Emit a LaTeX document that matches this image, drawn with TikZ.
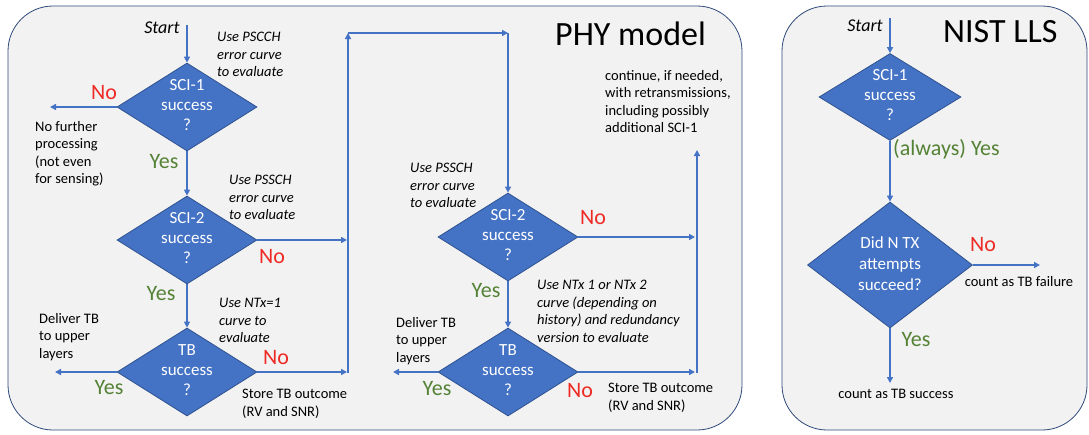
\documentclass[tikz,border=0pt]{standalone}
\usepackage{fontspec}
\setmainfont{Carlito}
\usetikzlibrary{shapes.geometric,arrows.meta}
\definecolor{panelfill}{HTML}{F2F2F2}
\definecolor{panelline}{HTML}{2F4A7A}
\definecolor{dfill}{HTML}{4472C4}
\definecolor{dline}{HTML}{2F528F}
\definecolor{arrowc}{HTML}{4472C4}
\definecolor{nored}{HTML}{EE2A24}
\definecolor{yesgreen}{HTML}{548235}
\newcommand{\dtxt}[1]{\smash{\raisebox{-0.25em}{\begin{tabular}{@{}c@{}}#1\end{tabular}}}}
\tikzset{
  dia/.style={shape=diamond, draw=dline, fill=dfill, line width=0.8pt, inner sep=0pt,
    minimum width=140pt, minimum height=88pt, text=white, font=\fontsize{17}{20}\selectfont},
  arr/.style={draw=arrowc, line width=1.6pt, -{Triangle[length=6pt,width=6pt]}},
  plain/.style={inner sep=0pt, align=left, anchor=north west, font=\fontsize{14.5}{17.5}\selectfont},
  note/.style={plain, font=\itshape\fontsize{14.5}{17.5}\selectfont},
  startst/.style={inner sep=0pt, font=\itshape\fontsize{18}{20}\selectfont},
  no/.style={inner sep=0pt, text=nored, font=\fontsize{22}{26}\selectfont},
  yes/.style={inner sep=0pt, text=yesgreen, font=\fontsize{22}{26}\selectfont},
  titlest/.style={inner sep=0pt, anchor=base west, font=\fontsize{34}{40}\selectfont},
  panel/.style={fill=panelfill, draw=panelline, line width=0.8pt, rounded corners=45pt}
}
\begin{document}
\begin{tikzpicture}[x=1pt,y=-1pt]
\useasboundingbox (0,0) rectangle (1089,434);
% panels
\draw[panel] (8,6) rectangle (742,430);
\draw[panel] (782,6) rectangle (1087,430);

% ---------- left column ----------
\node[startst] (start1) at (162,28) {Start};
\coordinate (s1) at (187,25);
\node[note] (n1) at (217,32) {Use PSCCH\\error curve\\to evaluate};
\node[dia] (d1) at (187,107) {\dtxt{SCI-1\\success\\?}};
\node[no] (no1) at (104,93) {No};
\node[plain] (nf) at (35,121) {No further\\processing\\(not even\\for sensing)};
\coordinate (e1) at (50,107);
\node[yes] (yes1) at (164,162) {Yes};
\node[note] (n2) at (229,175) {Use PSSCH\\error curve\\to evaluate};
\node[dia] (d2) at (187,240) {\dtxt{SCI-2\\success\\?}};
\coordinate (e2) at (347,240);
\node[no] (no2) at (272,257) {No};
\node[yes] (yes2) at (161,294) {Yes};
\node[note] (n3) at (219,298) {Use NTx=1\\curve to\\evaluate};
\node[dia] (d3) at (187,372) {\dtxt{TB\\success\\?}};
\node[plain] (dl1) at (39,313) {Deliver TB\\to upper\\layers};
\coordinate (e3) at (55,372);
\node[yes] (yes3) at (109,388) {Yes};
\node[no] (no3) at (276,358) {No};
\coordinate (e3b) at (347,372);
\node[plain] (st1) at (242,389) {Store TB outcome\\(RV and SNR)};
\coordinate (c1) at (348,373);
\coordinate (c2) at (348,33);
\coordinate (c3) at (508,33);

\draw[arr] (s1) -- (d1.north);
\draw[arr] (d1.west) -- (e1);
\draw[arr] (d1.south) -- (d2.north);
\draw[arr] (d2.east) -- (e2);
\draw[arr] (d2.south) -- (d3.north);
\draw[arr] (d3.west) -- (e3);
\draw[arr] (d3.east) -- (e3b);
\draw[arr] (c1) -- (c2);
\draw[arr] (c2) -- (c3);

% ---------- middle column ----------
\node[note] (n4) at (410,163) {Use PSSCH\\error curve\\to evaluate};
\node[dia] (d4) at (508,237) {\dtxt{SCI-2\\success\\?}};
\node[no] (no4) at (593,218) {No};
\coordinate (e4) at (695,237);
\node[yes] (yes4) at (486,291) {Yes};
\node[note] (n5) at (537,280) {Use NTx 1 or NTx 2\\curve (depending on\\history) and redundancy\\version to evaluate};
\node[dia] (d5) at (508,372) {\dtxt{TB\\success\\?}};
\node[plain] (dl2) at (396,317) {Deliver TB\\to upper\\layers};
\coordinate (e5) at (393,372);
\node[yes] (yes5) at (437,389) {Yes};
\node[no] (no5) at (580,391) {No};
\coordinate (e5b) at (695,372);
\node[plain] (st2) at (608,383) {Store TB outcome\\(RV and SNR)};
\coordinate (c4) at (697,373);
\coordinate (c5) at (697,150);
\node[plain] (cont) at (605,70) {continue, if needed,\\with retransmissions,\\including possibly\\additional SCI-1};
\node[titlest] (phy) at (555,45) {PHY model};

\draw[arr] (c3) -- (d4.north);
\draw[arr] (d4.east) -- (e4);
\draw[arr] (d4.south) -- (d5.north);
\draw[arr] (d5.west) -- (e5);
\draw[arr] (d5.east) -- (e5b);
\draw[arr] (c4) -- (c5);

% ---------- right panel ----------
\node[startst] (start2) at (865,26) {Start};
\coordinate (s2) at (890,18);
\node[titlest] (nist) at (943,42) {NIST LLS};
\node[dia, minimum width=142pt, minimum height=87pt] (d6) at (890,97) {\dtxt{SCI-1\\success\\?}};
\node[yes, anchor=west] (alw) at (893,149) {(always) Yes};
\node[dia, minimum width=165pt, minimum height=126pt, font=\fontsize{17}{21}\selectfont] (d7) at (890,265) {\dtxt{Did N TX\\attempts\\succeed?}};
\node[no] (no7) at (983,245) {No};
\coordinate (e7) at (1040,265);
\node[plain, anchor=center] (fail) at (1019,282) {count as TB failure};
\node[yes] (yes7) at (916,340) {Yes};
\coordinate (e8) at (890,383);
\node[plain, anchor=center] (succ) at (896,394) {count as TB success};

\draw[arr] (s2) -- (d6.north);
\draw[arr] (d6.south) -- (d7.north);
\draw[arr] (d7.east) -- (e7);
\draw[arr] (d7.south) -- (e8);
\end{tikzpicture}
\end{document}
